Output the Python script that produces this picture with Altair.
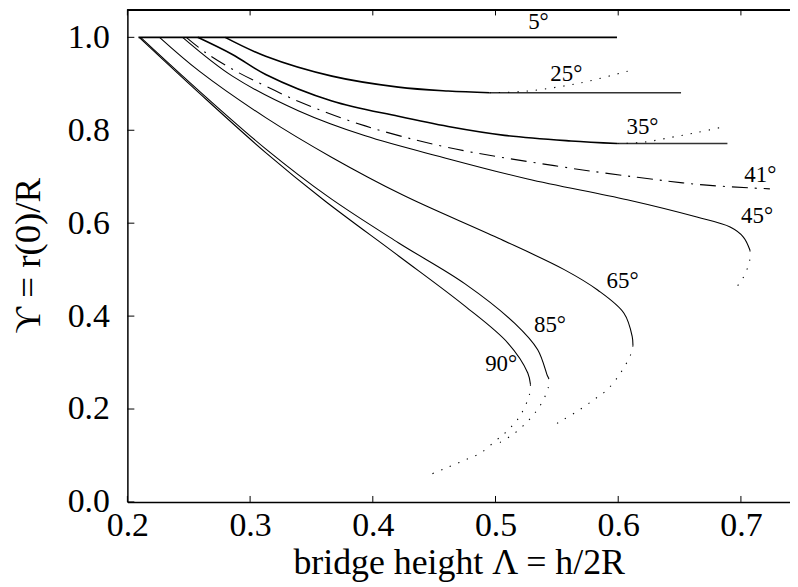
import altair as alt
import pandas as pd

# ---------------- axis ticks ----------------
x_ticks = [0.2, 0.3, 0.4, 0.5, 0.6, 0.7]
y_ticks = [0.0, 0.2, 0.4, 0.6, 0.8, 1.0]

# ---------------- curves ----------------
x05 = [0.209, 0.599]
y05 = [1.0, 1.0]

x25 = [0.2797, 0.3127, 0.3667, 0.4208, 0.4614, 0.4952]
y25 = [1.000, 0.9593, 0.9165, 0.8929, 0.8844, 0.8807]
x25h = [0.4952, 0.6512]
y25h = [0.8807, 0.8807]
x25d = [0.4952, 0.5263, 0.5695, 0.6128]
y25d = [0.8807, 0.8844, 0.9021, 0.9308]

x35 = [0.2573, 0.2856, 0.3127, 0.3667, 0.4208, 0.4614, 0.5074, 0.5614, 0.5993]
y35 = [1.000, 0.963, 0.9201, 0.8630, 0.8300, 0.808, 0.789, 0.777, 0.7715]
x35h = [0.5993, 0.6890]
y35h = [0.7715, 0.7715]
x35d = [0.5993, 0.6200, 0.6425, 0.6642, 0.6858]
y35d = [0.7715, 0.7740, 0.7844, 0.7950, 0.8073]

x41 = [0.248, 0.2641, 0.2884, 0.3127, 0.3397, 0.3938, 0.4614, 0.5479, 0.6155, 0.6696, 0.7236]
y41 = [1.0, 0.9664, 0.9272, 0.8951, 0.862, 0.8094, 0.7629, 0.7238, 0.6987, 0.6824, 0.6739]

x45 = [0.245, 0.2856, 0.3397, 0.3938, 0.4573, 0.5262, 0.6073, 0.6641, 0.6912, 0.7020, 0.7074]
y45 = [1.0, 0.9165, 0.8415, 0.7880, 0.7415, 0.6950, 0.6503, 0.6131, 0.5917, 0.5702, 0.5418]
x45d = [0.7074, 0.7072, 0.7047, 0.7007, 0.6966]
y45d = [0.5418, 0.5203, 0.4989, 0.4775, 0.4632]

x65 = [0.2262, 0.2586, 0.3127, 0.3667, 0.4249, 0.5020, 0.5560, 0.5832, 0.6047, 0.6114, 0.6120]
y65 = [1.0, 0.9272, 0.8272, 0.7415, 0.6600, 0.5680, 0.5000, 0.4561, 0.4062, 0.3561, 0.3368]
x65d = [0.6120, 0.6101, 0.6019, 0.5912, 0.5804, 0.5668, 0.5533, 0.5466]
y65d = [0.3368, 0.3169, 0.2777, 0.2420, 0.2206, 0.1955, 0.1741, 0.1634]

x85 = [0.2108, 0.2586, 0.3127, 0.3641, 0.4208, 0.4749, 0.5155, 0.5344, 0.5425, 0.5433]
y85 = [1.0, 0.8844, 0.7600, 0.6560, 0.5580, 0.4700, 0.3848, 0.3276, 0.2704, 0.2670]
x85d = [0.5433, 0.5431, 0.5366, 0.5271, 0.5155, 0.5020]
y85d = [0.2670, 0.2469, 0.2083, 0.1762, 0.1478, 0.1257]

x90 = [0.2096, 0.2586, 0.3127, 0.3600, 0.4208, 0.4749, 0.5101, 0.5263, 0.5285]
y90 = [1.0, 0.8800, 0.7520, 0.6500, 0.5300, 0.4220, 0.3420, 0.2777, 0.2527]
x90d = [0.5285, 0.5277, 0.5222, 0.5176, 0.5122, 0.5066, 0.5006, 0.4884, 0.4736, 0.4587, 0.4446]
y90d = [0.2527, 0.2313, 0.1955, 0.1762, 0.1600, 0.1456, 0.1328, 0.1064, 0.0884, 0.0722, 0.0563]

# ---------------- curve labels ----------------
lab_text = ["5°", "25°", "35°", "41°", "45°", "65°", "85°", "90°"]
lab_x = [0.535, 0.5577, 0.6198, 0.7158, 0.7132, 0.6036, 0.5444, 0.5046]
lab_y = [1.0325, 0.921, 0.808, 0.703, 0.6156, 0.4754, 0.3818, 0.296]

segments = [
    ("5", "thick", x05, y05),
    ("25", "thick", x25, y25),
    ("25h", "plateau", x25h, y25h),
    ("25d", "dot", x25d, y25d),
    ("35", "thick", x35, y35),
    ("35h", "plateau", x35h, y35h),
    ("35d", "dot", x35d, y35d),
    ("41", "dashdot", x41, y41),
    ("45", "thin", x45, y45),
    ("45d", "dot", x45d, y45d),
    ("65", "thin", x65, y65),
    ("65d", "dot", x65d, y65d),
    ("85", "thin", x85, y85),
    ("85d", "dot", x85d, y85d),
    ("90", "thin", x90, y90),
    ("90d", "dot", x90d, y90d),
]
rows = []
for name, style, xs, ys in segments:
    for i, (xv, yv) in enumerate(zip(xs, ys)):
        rows.append({"seg": name, "style": style, "i": i, "x": xv, "y": yv})
df = pd.DataFrame(rows)

labels_df = pd.DataFrame({"t": lab_text, "x": lab_x, "y": lab_y})
xt_df = pd.DataFrame({"t": x_ticks})
yt_df = pd.DataFrame({"t": y_ticks})

W, H = 666, 495
FONT = "Liberation Serif, DejaVu Serif"

x_scale = alt.Scale(domain=[0.2, 0.74], nice=False, zero=False)
y_scale = alt.Scale(domain=[0.0, 1.06], nice=False, zero=False)

x_axis = alt.Axis(
    values=x_ticks, format=".1f", grid=False,
    labelFont=FONT, labelFontSize=34, labelColor="black", labelPadding=7,
    labelFlush=False, labelOverlap=False,
    tickSize=0, domainColor="black", domainWidth=1.5,
    title="bridge height Λ = h/2R", titleFont=FONT, titleFontSize=36,
    titleFontWeight="normal", titleColor="black",
    titleX=333, titleY=72, titleBaseline="alphabetic", titleAlign="center",
)
y_axis = alt.Axis(
    values=y_ticks, format=".1f", grid=False,
    labelFont=FONT, labelFontSize=34, labelColor="black", labelPadding=18,
    labelFlush=False, labelOverlap=False,
    tickSize=0, domainColor="black", domainWidth=1.5,
    title="ϒ = r(0)/R", titleFont=FONT, titleFontSize=37,
    titleFontWeight="normal", titleColor="black",
    titleX=-88, titleY=247, titleAngle=270, titleBaseline="alphabetic",
    titleAlign="center",
)

base = alt.Chart(df)


def line_layer(style, width, dash=None, color="black", interp="catmull-rom"):
    kw = dict(strokeWidth=width, color=color, interpolate=interp, clip=True)
    if dash is not None:
        kw["strokeDash"] = dash
    return base.transform_filter(alt.datum.style == style).mark_line(**kw).encode(
        x=alt.X("x:Q", scale=x_scale, axis=x_axis),
        y=alt.Y("y:Q", scale=y_scale, axis=y_axis),
        detail="seg:N",
        order="i:Q",
    )


thick = line_layer("thick", 1.6)
plateau = line_layer("plateau", 1.3, color="#333333")
thin = line_layer("thin", 1.1)
dotted = line_layer("dot", 1.1, dash=[1.3, 8])
dashdot = line_layer("dashdot", 1.1, dash=[16, 7, 2, 7])

texts = alt.Chart(labels_df).mark_text(
    font=FONT, fontSize=23, color="black", align="center", baseline="middle"
).encode(
    x=alt.X("x:Q", scale=x_scale, axis=x_axis),
    y=alt.Y("y:Q", scale=y_scale, axis=y_axis),
    text="t:N",
)

# frame top and inward ticks
top_line = alt.Chart(xt_df).mark_rule(color="black", strokeWidth=1.5).encode(
    x=alt.value(0), x2=alt.value(W), y=alt.value(0.75)
)
bottom_ticks = alt.Chart(xt_df).mark_rule(color="black", strokeWidth=1).encode(
    x=alt.X("t:Q", scale=x_scale, axis=x_axis), y=alt.value(H), y2=alt.value(H - 6)
)
top_ticks = alt.Chart(xt_df).mark_rule(color="black", strokeWidth=1).encode(
    x=alt.X("t:Q", scale=x_scale, axis=x_axis), y=alt.value(0), y2=alt.value(6)
)
left_ticks = alt.Chart(yt_df).mark_rule(color="black", strokeWidth=1).encode(
    y=alt.Y("t:Q", scale=y_scale, axis=y_axis), x=alt.value(0), x2=alt.value(7)
)

chart = alt.layer(
    thick, plateau, thin, dotted, dashdot, texts,
    top_line, bottom_ticks, top_ticks, left_ticks,
).properties(
    width=W, height=H,
    padding={"left": 120, "top": 0, "right": 0, "bottom": 80},
    autosize=alt.AutoSizeParams(type="none"),
    background="white",
).configure_view(stroke=None)

chart.save("out.html", embed_options={"renderer": "svg", "actions": False})
